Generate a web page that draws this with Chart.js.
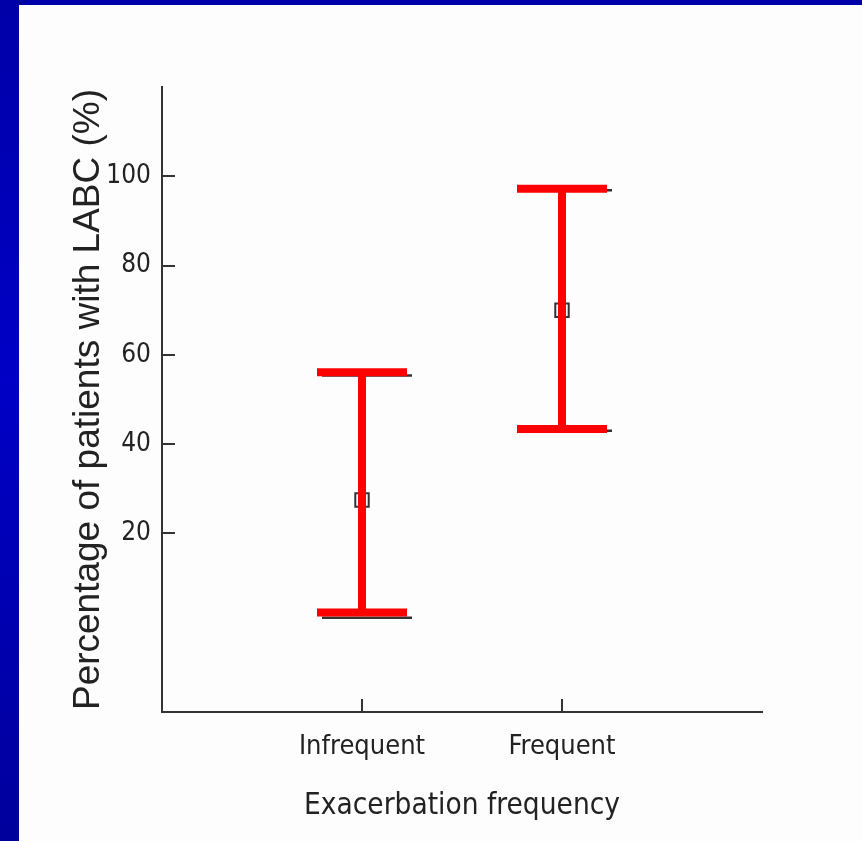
<!DOCTYPE html>
<html>
<head>
<meta charset="utf-8">
<title>LABC by exacerbation frequency</title>
<script src="https://cdn.jsdelivr.net/npm/chart.js@4.4.1/dist/chart.umd.min.js"></script>
<style>
    html, body {
        margin: 0;
        padding: 0;
        width: 862px;
        height: 841px;
        overflow: hidden;
        background: linear-gradient(to bottom, #0000a8 0%, #0000c6 45%, #00009c 100%);
    }
    .panel {
        position: absolute;
        left: 19px;
        top: 5px;
        right: 0;
        bottom: 0;
        background: #fdfdfd;
    }
    .wrap {
        position: absolute;
        left: 0;
        top: 0;
        width: 862px;
        height: 841px;
    }
</style>
</head>
<body>
<div class="panel"></div>
<div class="wrap"><canvas id="chart" width="862" height="841"></canvas></div>
<script>
const categories = ["Infrequent", "Frequent"];
const categoryPositions = [1, 2];
const means = [27.5, 70];
const upperLimits = [56.1, 97.2];
const lowerLimits = [2.3, 43.4];
// faint black bars printed just under the red ones
const shadowUpper = [55.4, 96.9];
const shadowLower = [1.1, 43.0];
const labelledTicks = [20, 40, 60, 80, 100];

const AXIS_COLOR = "#333";
const TEXT_COLOR = "#222";
const RED = "#ff0000";
const FONT = "'DejaVu Sans Condensed', 'Liberation Sans', sans-serif";

function drawCap(ctx, x, y, half, width, color) {
    ctx.strokeStyle = color;
    ctx.lineWidth = width;
    ctx.beginPath();
    ctx.moveTo(x - half, y);
    ctx.lineTo(x + half, y);
    ctx.stroke();
}

const errorBars = {
    id: "errorBars",
    beforeDatasetsDraw(chart) {
        const { ctx, scales } = chart;
        ctx.save();
        ctx.lineCap = "butt";
        categoryPositions.forEach((pos, i) => {
            const x = scales.x.getPixelForValue(pos) + 5;
            drawCap(ctx, x, scales.y.getPixelForValue(shadowUpper[i]), 45, 2.5, AXIS_COLOR);
            drawCap(ctx, x, scales.y.getPixelForValue(shadowLower[i]), 45, 2.5, AXIS_COLOR);
        });
        ctx.restore();
    },
    afterDatasetsDraw(chart) {
        const { ctx, scales } = chart;
        ctx.save();
        ctx.lineCap = "butt";
        categoryPositions.forEach((pos, i) => {
            const x = scales.x.getPixelForValue(pos);
            const top = scales.y.getPixelForValue(upperLimits[i]);
            const bottom = scales.y.getPixelForValue(lowerLimits[i]);
            ctx.strokeStyle = RED;
            ctx.lineWidth = 8;
            ctx.beginPath();
            ctx.moveTo(x, top);
            ctx.lineTo(x, bottom);
            ctx.stroke();
            drawCap(ctx, x, top, 45, 8, RED);
            drawCap(ctx, x, bottom, 45, 8, RED);
        });
        ctx.restore();
    },
};

// tick marks point into the plot area
const innerTicks = {
    id: "innerTicks",
    afterDraw(chart) {
        const { ctx, scales, chartArea } = chart;
        ctx.save();
        ctx.strokeStyle = AXIS_COLOR;
        ctx.lineWidth = 2;
        scales.y.ticks.forEach((t) => {
            if (t.value <= scales.y.min) return;
            const y = Math.round(scales.y.getPixelForValue(t.value));
            ctx.beginPath();
            ctx.moveTo(chartArea.left, y);
            ctx.lineTo(chartArea.left + 13, y);
            ctx.stroke();
        });
        categoryPositions.forEach((pos) => {
            const x = Math.round(scales.x.getPixelForValue(pos));
            ctx.beginPath();
            ctx.moveTo(x, chartArea.bottom);
            ctx.lineTo(x, chartArea.bottom - 13);
            ctx.stroke();
        });
        ctx.restore();
    },
};

new Chart(document.getElementById("chart"), {
    type: "scatter",
    data: {
        datasets: [
            {
                label: "Mean",
                data: means.map((m, i) => ({ x: categoryPositions[i], y: m })),
                pointStyle: "rect",
                radius: 9.5,
                borderColor: AXIS_COLOR,
                borderWidth: 2,
                backgroundColor: "rgba(0,0,0,0)",
            },
        ],
    },
    options: {
        responsive: false,
        animation: false,
        layout: {
            padding: { left: 40, right: 100, top: 87, bottom: 0 },
        },
        plugins: {
            legend: { display: false },
            tooltip: { enabled: false },
        },
        scales: {
            x: {
                type: "linear",
                min: 0,
                max: 3,
                afterBuildTicks: (scale) => {
                    scale.ticks = categoryPositions.map((v) => ({ value: v }));
                },
                afterFit: (scale) => {
                    scale.height = 129;
                    scale.paddingLeft = 0;
                    scale.paddingRight = 0;
                },
                ticks: {
                    padding: 19,
                    color: TEXT_COLOR,
                    font: { family: FONT, size: 27 },
                    callback: (value) => {
                        const i = categoryPositions.indexOf(value);
                        return i >= 0 ? categories[i] : null;
                    },
                },
                grid: { display: true, drawOnChartArea: false, drawTicks: false },
                border: { color: AXIS_COLOR, width: 2 },
                title: {
                    display: true,
                    text: "Exacerbation frequency",
                    color: TEXT_COLOR,
                    font: { family: FONT, size: 29.5 },
                    padding: { top: 0, bottom: 17 },
                },
            },
            y: {
                min: -20,
                max: 120,
                afterFit: (scale) => {
                    scale.width = 122;
                    scale.paddingTop = 0;
                    scale.paddingBottom = 0;
                },
                ticks: {
                    stepSize: 20,
                    padding: 11,
                    color: TEXT_COLOR,
                    font: { family: FONT, size: 26 },
                    callback: (value) => (labelledTicks.includes(value) ? String(value) : null),
                },
                grid: { display: true, drawOnChartArea: false, drawTicks: false },
                border: { color: AXIS_COLOR, width: 2 },
                title: {
                    display: true,
                    text: "Percentage of patients with LABC (%)",
                    color: TEXT_COLOR,
                    font: { family: "Liberation Sans", size: 37 },
                    padding: { top: 27, bottom: 0 },
                },
            },
        },
    },
    plugins: [errorBars, innerTicks],
});
</script>
</body>
</html>
